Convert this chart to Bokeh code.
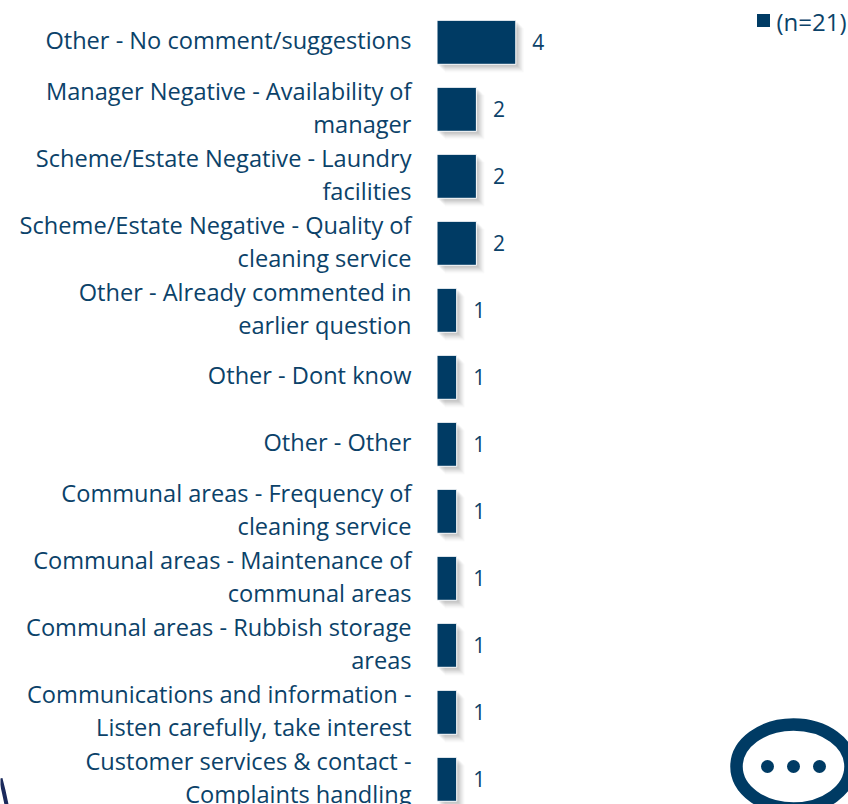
from bokeh.plotting import figure
from bokeh.models import Range1d, ColumnDataSource
from bokeh.core.properties import value
from bokeh.embed import file_html
from bokeh.resources import INLINE

categories = [
    "Other - No comment/suggestions",
    "Manager Negative - Availability of\nmanager",
    "Scheme/Estate Negative - Laundry\nfacilities",
    "Scheme/Estate Negative - Quality of\ncleaning service",
    "Other - Already commented in\nearlier question",
    "Other - Dont know",
    "Other - Other",
    "Communal areas - Frequency of\ncleaning service",
    "Communal areas - Maintenance of\ncommunal areas",
    "Communal areas - Rubbish storage\nareas",
    "Communications and information -\nListen carefully, take interest",
    "Customer services & contact -\nComplaints handling",
]
counts = [4, 2, 2, 2, 1, 1, 1, 1, 1, 1, 1, 1]
legend_label = "(n=21)"

NAVY = "#003b64"
TEXT = "#0b4269"
FONT = "Open Sans"
W, H = 848, 804
PX_PER_UNIT = 19.7
PX_PER_ROW = 67.0
X0 = 436.5    # frame px of the zero line
Y0 = 41.8     # frame px of the first row

pos = list(range(len(categories)))
src = ColumnDataSource(dict(y=pos, cat=categories, n=counts, zero=[0] * len(pos),
                            lab=[str(c) for c in counts]))

p = figure(width=W, height=H, output_backend="svg", toolbar_location=None,
           min_border=0, min_border_left=0, min_border_right=0, min_border_top=0, min_border_bottom=0,
           x_range=Range1d(-X0 / PX_PER_UNIT, (W - X0) / PX_PER_UNIT),
           y_range=Range1d((H - Y0) / PX_PER_ROW, -Y0 / PX_PER_ROW),
           x_axis_type="linear", y_axis_type="linear")
p.xaxis.visible = False
p.yaxis.visible = False
p.grid.visible = False
p.outline_line_color = None
p.background_fill_color = "white"
p.border_fill_color = "white"


def fx(px):
    return (px - X0) / PX_PER_UNIT


def fy(px):
    return (px - Y0) / PX_PER_ROW


# soft drop shadow, right and down of each bar
BAR_H = 44 / PX_PER_ROW
for off, a in [(8, 0.03), (7, 0.04), (6, 0.05), (5, 0.06), (4, 0.07), (3, 0.08), (2, 0.08)]:
    dx, dy = off / PX_PER_UNIT, off / PX_PER_ROW
    p.hbar(y=[v + dy for v in pos], left=[dx] * len(pos), right=[c + dx for c in counts],
           height=BAR_H, fill_color="#666666", fill_alpha=a, line_color=None)

p.hbar(y="y", left="zero", right="n", height=BAR_H, source=src,
       fill_color=NAVY, line_color="white", line_width=1)

p.text(x="zero", y="y", text="cat", source=src, x_offset=-25.5, y_offset=-2, text_align="right",
       text_baseline="middle", text_font=value(FONT), text_font_size="23.6px",
       text_color=TEXT, text_line_height=1.03)
p.text(x="n", y="y", text="lab", source=src, x_offset=16.5, y_offset=-0.5, text_align="left",
       text_baseline="middle", text_font=value(FONT), text_font_size="21px",
       text_color=TEXT)

# legend
p.rect(x=[fx(763)], y=[fy(20)], width=13, height=13, width_units="screen", height_units="screen",
       fill_color=NAVY, line_color=None)
p.text(x=[fx(776)], y=[fy(20.5)], text=[legend_label], text_align="left", text_baseline="middle",
       text_font=value(FONT), text_font_size="24px", text_color=TEXT)

# speech-bubble icon
p.ellipse(x=[fx(793)], y=[fy(766)], width=114, height=84, width_units="screen", height_units="screen",
          fill_color="white", line_color=NAVY, line_width=12.5)
p.scatter(x=[fx(767), fx(793), fx(819)], y=[fy(766)] * 3, size=13, marker="circle",
          fill_color=NAVY, line_color=None)

# corner of the page decoration
p.line(x=[fx(0), fx(3), fx(6)], y=[fy(778), fy(790), fy(804)], line_color="#1b2a5c", line_width=4)

open("out.html", "w").write(file_html(p, INLINE))
